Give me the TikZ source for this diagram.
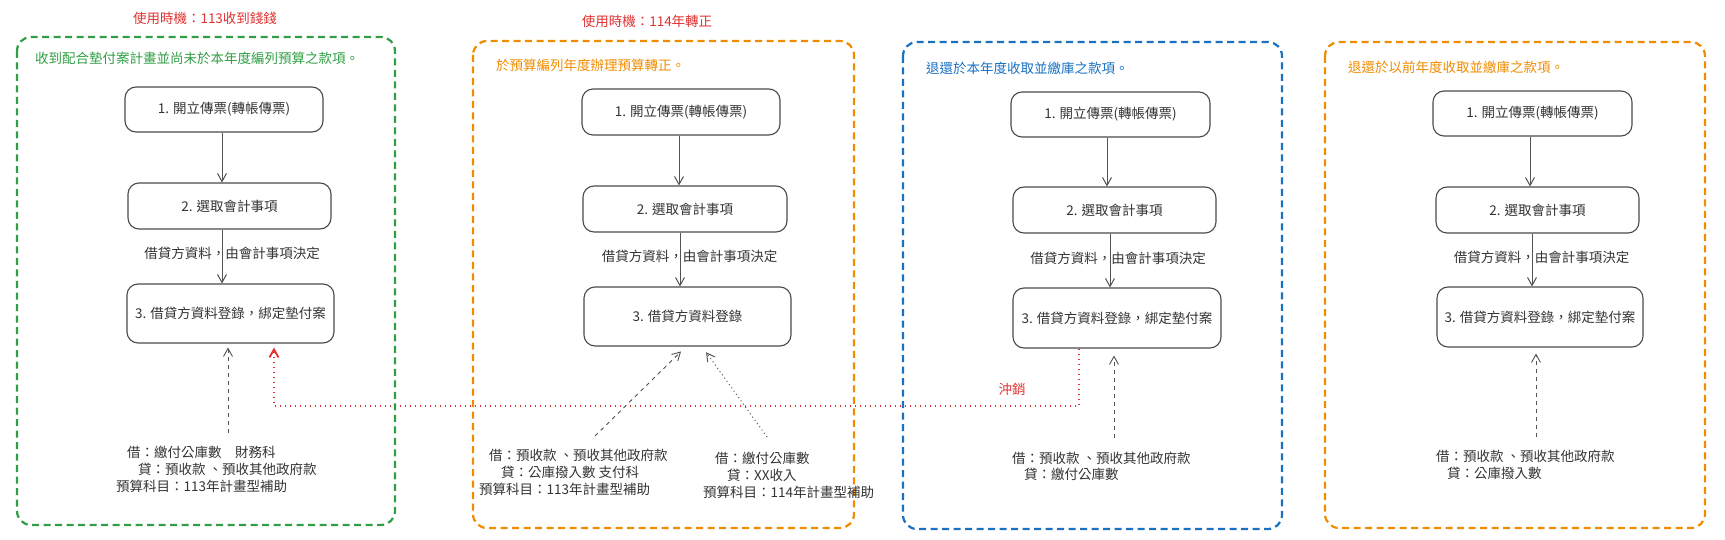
\documentclass[tikz,border=0pt]{standalone}
\usepackage{fontspec}
\setmainfont{Noto Sans CJK TC}
\usetikzlibrary{arrows.meta}
\definecolor{exred}{HTML}{E03131}
\definecolor{exgreen}{HTML}{2F9E44}
\definecolor{exorange}{HTML}{F08C00}
\definecolor{exblue}{HTML}{1971C2}
\definecolor{ink}{HTML}{333333}
\definecolor{boxline}{HTML}{4A4A4A}
\begin{document}
\begin{tikzpicture}[x=1pt,y=-1pt,
  txt/.style={font=\fontsize{13.5pt}{16pt}\selectfont, text=ink, inner sep=0pt},
  lefttxt/.style={txt, anchor=west},
  title/.style={txt, text=exred},
  header/.style={txt, anchor=west, text=#1},
  frame/.style={draw=#1, line width=2.2pt, dash pattern=on 7pt off 4.5pt, rounded corners=14pt},
  stepbox/.style={draw=boxline, line width=1.1pt, rounded corners=11pt, txt, align=center},
  tip/.style={-{Straight Barb[length=8pt,width=9pt]}},
  arr/.style={draw=ink!85, line width=1pt, tip},
  dasharr/.style={draw=ink!85, line width=0.9pt, dash pattern=on 4pt off 4pt, tip},
  dotarr/.style={draw=ink!85, line width=1pt, dash pattern=on 1pt off 3pt, tip},
  redarr/.style={draw=exred, line width=1.8pt, dash pattern=on 1.6pt off 3.4pt, tip}
]
\useasboundingbox (0,0) rectangle (1725,540);

% ---------------- Panel 1 ----------------
\draw[frame=exgreen] (17,37) rectangle (395,525);
\node[title] (p1title) at (205,18) {使用時機：113收到錢錢};
\node[header=exgreen] (p1head) at (35,58) {收到配合墊付案計畫並尚未於本年度編列預算之款項。};
\node[stepbox, minimum width=198pt, minimum height=45pt] (p1b1) at (224,109.5) {1. 開立傳票(轉帳傳票)};
\node[stepbox, minimum width=203pt, minimum height=46pt] (p1b2) at (229.5,206) {2. 選取會計事項};
\node[stepbox, minimum width=207pt, minimum height=59pt] (p1b3) at (230.5,313.5) {3. 借貸方資料登錄，綁定墊付案};
\node[txt] (p1lab) at (232,253) {借貸方資料，由會計事項決定};
\node[lefttxt] (p1t1) at (127,452) {借：繳付公庫數　財務科};
\node[lefttxt] (p1t2) at (138,469) {貸：預收款 、預收其他政府款};
\node[lefttxt] (p1t3) at (116,486) {預算科目：113年計畫型補助};
\draw[arr] ([xshift=-2pt]p1b1.south) -- ([xshift=-2pt]p1b1.south |- p1b2.north);
\draw[arr] ([xshift=-7.5pt]p1b2.south) -- ([xshift=-7.5pt]p1b2.south |- p1b3.north);
\coordinate (p1tail) at (228,433);
\draw[dasharr, shorten >=4pt] (p1tail) -- (p1tail |- p1b3.south);

% ---------------- Panel 2 ----------------
\draw[frame=exorange] (473,41) rectangle (854,528);
\node[title] (p2title) at (647,21) {使用時機：114年轉正};
\node[header=exorange] (p2head) at (496,65) {於預算編列年度辦理預算轉正。};
\node[stepbox, minimum width=198pt, minimum height=46pt] (p2b1) at (681,112) {1. 開立傳票(轉帳傳票)};
\node[stepbox, minimum width=204pt, minimum height=46pt] (p2b2) at (685,209) {2. 選取會計事項};
\node[stepbox, minimum width=207pt, minimum height=59pt] (p2b3) at (687.5,316.5) {3. 借貸方資料登錄};
\node[txt] (p2lab) at (689.5,256) {借貸方資料，由會計事項決定};
\node[lefttxt] (p2t1) at (489,455) {借：預收款 、預收其他政府款};
\node[lefttxt] (p2t2) at (501,472) {貸：公庫撥入數 支付科};
\node[lefttxt] (p2t3) at (479,489) {預算科目：113年計畫型補助};
\node[lefttxt] (p2u1) at (715,458) {借：繳付公庫數};
\node[lefttxt] (p2u2) at (727,475) {貸：XX收入};
\node[lefttxt] (p2u3) at (703,492) {預算科目：114年計畫型補助};
\draw[arr] ([xshift=-2pt]p2b1.south) -- ([xshift=-2pt]p2b1.south |- p2b2.north);
\draw[arr] ([xshift=-5pt]p2b2.south) -- ([xshift=-5pt]p2b2.south |- p2b3.north);
\coordinate (p2tailA) at (595,436);
\coordinate (p2tailB) at (767,437);
\draw[dasharr, shorten >=7pt] (p2tailA) -- ([xshift=-1.5pt]p2b3.south);
\draw[dotarr, shorten >=7pt] (p2tailB) -- ([xshift=14.5pt]p2b3.south);

% ---------------- Panel 3 ----------------
\draw[frame=exblue] (903,42) rectangle (1282,529);
\node[header=exblue] (p3head) at (926,68) {退還於本年度收取並繳庫之款項。};
\node[stepbox, minimum width=199pt, minimum height=45pt] (p3b1) at (1110.5,114.5) {1. 開立傳票(轉帳傳票)};
\node[stepbox, minimum width=203pt, minimum height=46pt] (p3b2) at (1114.5,210) {2. 選取會計事項};
\node[stepbox, minimum width=208pt, minimum height=60pt] (p3b3) at (1117,318) {3. 借貸方資料登錄，綁定墊付案};
\node[txt] (p3lab) at (1118,258) {借貸方資料，由會計事項決定};
\node[lefttxt] (p3t1) at (1012,458) {借：預收款 、預收其他政府款};
\node[lefttxt] (p3t2) at (1024,474) {貸：繳付公庫數};
\draw[arr] ([xshift=-3.5pt]p3b1.south) -- ([xshift=-3.5pt]p3b1.south |- p3b2.north);
\draw[arr] ([xshift=-4.5pt]p3b2.south) -- ([xshift=-4.5pt]p3b2.south |- p3b3.north);
\coordinate (p3tail) at (1114,438);
\draw[dasharr, shorten >=7pt] (p3tail) -- (p3tail |- p3b3.south);

% ---------------- Panel 4 ----------------
\draw[frame=exorange] (1325,42) rectangle (1705,528);
\node[header=exorange] (p4head) at (1348,67) {退還於以前年度收取並繳庫之款項。};
\node[stepbox, minimum width=199pt, minimum height=45pt] (p4b1) at (1532.5,113.5) {1. 開立傳票(轉帳傳票)};
\node[stepbox, minimum width=203pt, minimum height=46pt] (p4b2) at (1537.5,210) {2. 選取會計事項};
\node[stepbox, minimum width=206pt, minimum height=60pt] (p4b3) at (1540,317) {3. 借貸方資料登錄，綁定墊付案};
\node[txt] (p4lab) at (1541.5,257) {借貸方資料，由會計事項決定};
\node[lefttxt] (p4t1) at (1436,456) {借：預收款 、預收其他政府款};
\node[lefttxt] (p4t2) at (1447,473) {貸：公庫撥入數};
\draw[arr] ([xshift=-2.5pt]p4b1.south) -- ([xshift=-2.5pt]p4b1.south |- p4b2.north);
\draw[arr] ([xshift=-5.5pt]p4b2.south) -- ([xshift=-5.5pt]p4b2.south |- p4b3.north);
\coordinate (p4tail) at (1536,437);
\draw[dasharr, shorten >=6pt] (p4tail) -- (p4tail |- p4b3.south);

% ---------------- Red offset connector ----------------
\coordinate (redturn) at (274,406);
\node[title] (offset) at (1012,389) {沖銷};
\draw[redarr, shorten >=4pt] ([xshift=-38pt]p3b3.south) |- (redturn) -- (redturn |- p1b3.south);
\end{tikzpicture}
\end{document}
